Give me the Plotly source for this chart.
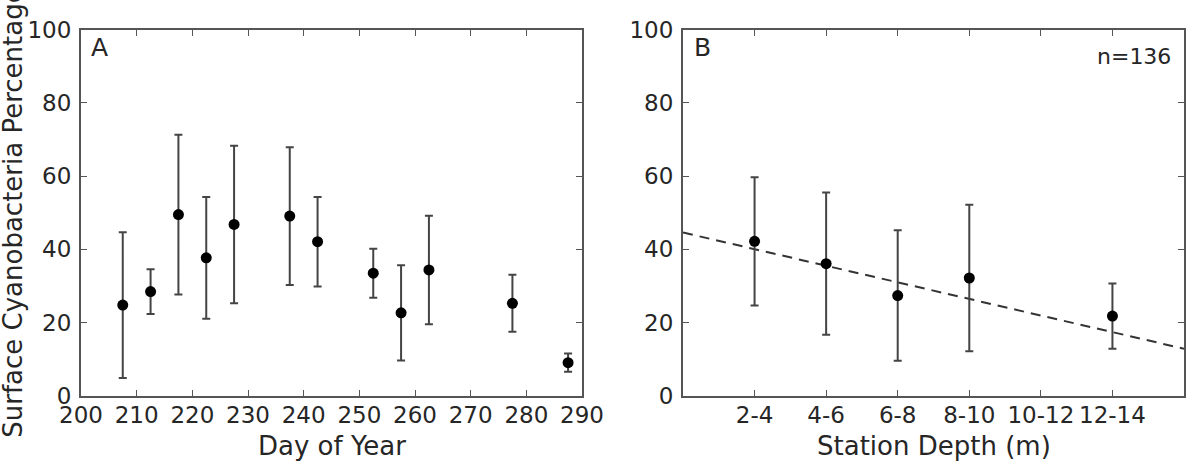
import plotly.graph_objects as go

# Panel A: surface cyanobacteria percentage vs day of year
day_of_year = [207.5, 212.5, 217.5, 222.5, 227.5, 237.5, 242.5, 252.5, 257.5, 262.5, 277.5, 287.5]
pct_a = [24.8, 28.5, 49.5, 37.7, 46.8, 49.1, 42.1, 33.5, 22.7, 34.4, 25.3, 9.1]
err_a = [19.9, 6.1, 21.8, 16.6, 21.5, 18.8, 12.2, 6.7, 13.0, 14.8, 7.8, 2.5]

# Panel B: vs station depth bins
depth_labels = ["2-4", "4-6", "6-8", "8-10", "10-12", "12-14"]
depth_pos = [1, 2, 3, 4, 5, 6]
depth_x = [1, 2, 3, 4, 6]
pct_b = [42.2, 36.1, 27.4, 32.2, 21.8]
err_b = [17.5, 19.4, 17.8, 20.0, 8.9]
trend_x = [0, 7]
trend_y = [44.6, 12.9]

a_ticks = [200, 210, 220, 230, 240, 250, 260, 270, 280, 290]
y_ticks = [0, 20, 40, 60, 80, 100]

FONT = "DejaVu Sans"
TXT = "#262626"
FRAME = "#555555"

fig = go.Figure()

fig.add_trace(go.Scatter(
    x=day_of_year, y=pct_a, mode="markers",
    marker=dict(color="black", size=11),
    error_y=dict(type="data", array=err_a, visible=True, color="#444444", thickness=2, width=4),
    xaxis="x", yaxis="y", showlegend=False,
))
fig.add_trace(go.Scatter(
    x=trend_x, y=trend_y, mode="lines",
    line=dict(color="#333333", width=2, dash="10px,7px"),
    xaxis="x2", yaxis="y2", showlegend=False,
))
fig.add_trace(go.Scatter(
    x=depth_x, y=pct_b, mode="markers",
    marker=dict(color="black", size=11),
    error_y=dict(type="data", array=err_b, visible=True, color="#444444", thickness=2, width=4),
    xaxis="x2", yaxis="y2", showlegend=False,
))

W, H = 1188, 466
xa = [81 / W, 582 / W]
xb = [683 / W, 1184 / W]
yd = [(H - 396) / H, (H - 29.5) / H]

axis_common = dict(
    showline=True, linecolor=FRAME, linewidth=2, mirror="ticks",
    ticks="inside", ticklen=6, tickwidth=1, tickcolor=FRAME,
    showgrid=False, zeroline=False, automargin=False,
    tickfont=dict(family=FONT, size=23, color=TXT),
)

fig.update_layout(
    width=W, height=H,
    margin=dict(l=0, r=0, t=0, b=0),
    paper_bgcolor="white", plot_bgcolor="white",
    xaxis=dict(domain=xa, range=[200, 290], tickvals=a_ticks, anchor="y",
               ticklabelstandoff=-3, **axis_common),
    yaxis=dict(domain=yd, range=[0, 100], tickvals=y_ticks, anchor="x",
               ticklabelstandoff=3, **axis_common),
    xaxis2=dict(domain=xb, range=[0, 7], tickvals=depth_pos, ticktext=depth_labels,
                anchor="y2", ticklabelstandoff=-3, **axis_common),
    yaxis2=dict(domain=yd, range=[0, 100], tickvals=y_ticks, anchor="x2",
                ticklabelstandoff=3, **axis_common),
    font=dict(family=FONT, color=TXT),
)

ann = []
ann.append(dict(text="Day of Year", x=(xa[0] + xa[1]) / 2, y=(H - 446) / H,
                xref="paper", yref="paper", showarrow=False,
                font=dict(family=FONT, size=26, color=TXT), xanchor="center", yanchor="middle"))
ann.append(dict(text="Station Depth (m)", x=(xb[0] + xb[1]) / 2, y=(H - 446) / H,
                xref="paper", yref="paper", showarrow=False,
                font=dict(family=FONT, size=26, color=TXT), xanchor="center", yanchor="middle"))
ann.append(dict(text="Surface Cyanobacteria Percentage", x=13 / W, y=(yd[0] + yd[1]) / 2,
                xref="paper", yref="paper", showarrow=False, textangle=-90,
                font=dict(family=FONT, size=26, color=TXT), xanchor="center", yanchor="middle"))
ann.append(dict(text="A", x=201.5, y=99.5, xref="x", yref="y", showarrow=False,
                font=dict(family=FONT, size=25, color=TXT), xanchor="left", yanchor="top"))
ann.append(dict(text="B", x=0.12, y=99.5, xref="x2", yref="y2", showarrow=False,
                font=dict(family=FONT, size=25, color=TXT), xanchor="left", yanchor="top"))
ann.append(dict(text="n=136", x=6.85, y=96.5, xref="x2", yref="y2", showarrow=False,
                font=dict(family=FONT, size=22, color=TXT), xanchor="right", yanchor="top"))
fig.update_layout(annotations=ann)

fig.write_html("out.html")
